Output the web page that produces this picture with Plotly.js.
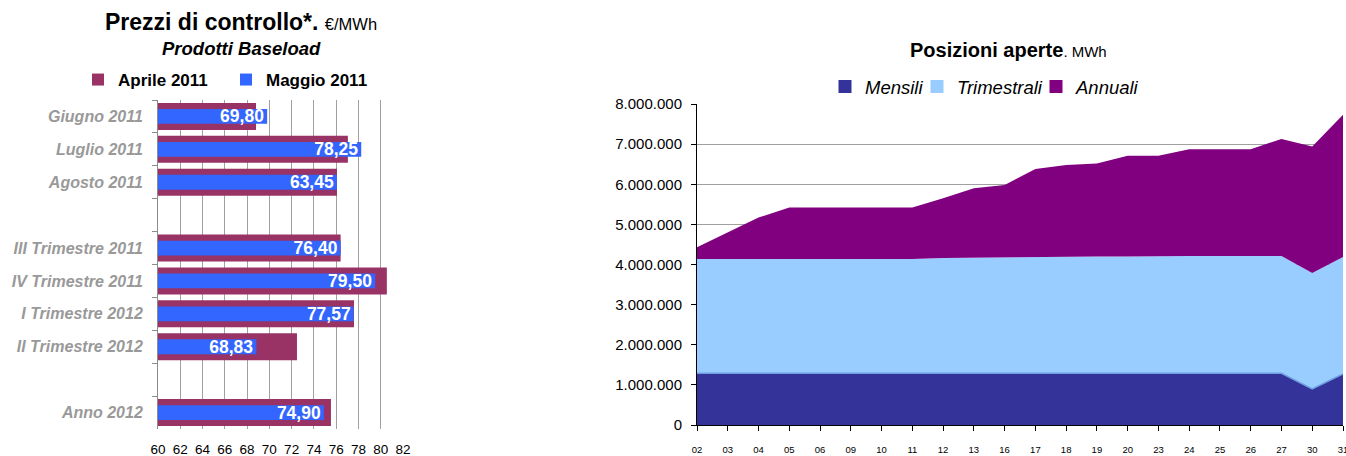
<!DOCTYPE html>
<html>
<head>
<meta charset="utf-8">
<script src="https://cdn.plot.ly/plotly-3.0.1.min.js"></script>
<style>html,body{margin:0;padding:0;background:#fff;}#chart{width:1346px;height:456px;}</style>
</head>
<body>
<div id="chart"></div>
<script>
// ---- Left chart: Prezzi di controllo (€/MWh) ----
var prodotti = ['Giugno 2011','Luglio 2011','Agosto 2011',' ','III Trimestre 2011','IV Trimestre 2011','I Trimestre 2012','II Trimestre 2012','  ','Anno 2012'];
var aprile2011 = [68.80, 77.05, 76.07, null, 76.40, 80.55, 77.60, 72.48, null, 75.53];
var maggio2011 = [69.80, 78.25, 76.07, null, 76.40, 79.50, 77.57, 68.83, null, 74.90];
var maggioLabels = ['69,80','78,25','63,45','','76,40','79,50','77,57','68,83','','74,90'];
var prezziTicks = [60,62,64,66,68,70,72,74,76,78,80,82];

// ---- Right chart: Posizioni aperte (MWh) ----
var giorni = ['02','03','04','05','06','09','10','11','12','13','16','17','18','19','20','23','24','25','26','27','30','31'];
var mensili     = [1290000,1290000,1290000,1290000,1290000,1290000,1290000,1290000,1290000,1290000,1290000,1290000,1290000,1290000,1290000,1290000,1290000,1290000,1290000,1290000,900000,1270000];
var trimestrali = [2850000,2850000,2850000,2850000,2850000,2850000,2850000,2850000,2870000,2880000,2890000,2900000,2900000,2910000,2910000,2920000,2920000,2920000,2920000,2920000,2890000,2920000];
var annuali     = [290000,660000,1030000,1280000,1280000,1280000,1280000,1280000,1490000,1730000,1800000,2190000,2290000,2320000,2510000,2500000,2660000,2660000,2660000,2920000,3150000,3540000];

var FONT = 'Liberation Sans, Arial, sans-serif';
var NARROW = 'Liberation Sans Narrow, Arial Narrow, Liberation Sans, Arial, sans-serif';
var W = 1346, H = 456;

var traces = [
  {type:'bar', orientation:'h', name:'Aprile 2011', y:prodotti, x:aprile2011,
   marker:{color:'#993366'}, width:0.82, xaxis:'x', yaxis:'y', legend:'legend', legendwidth:103, hoverinfo:'x+y'},
  {type:'bar', orientation:'h', name:'Maggio 2011', y:prodotti, x:maggio2011,
   marker:{color:'#3366FF'}, width:0.45, xaxis:'x', yaxis:'y', legend:'legend',
   text:maggioLabels, textposition:'inside', insidetextanchor:'end', constraintext:'none',
   textfont:{family:FONT, size:17.5, color:'#ffffff', weight:'bold'}, hoverinfo:'x+y'},
  {type:'scatter', mode:'lines', name:'Mensili', x:giorni, y:mensili, stackgroup:'one',
   line:{width:1.5, color:'#6f9fe0'}, fillcolor:'#333399', xaxis:'x2', yaxis:'y2', showlegend:false},
  {type:'scatter', mode:'lines', name:'Trimestrali', x:giorni, y:trimestrali, stackgroup:'one',
   line:{width:0, color:'#99CCFF'}, fillcolor:'#99CCFF', xaxis:'x2', yaxis:'y2', showlegend:false},
  {type:'scatter', mode:'lines', name:'Annuali', x:giorni, y:annuali, stackgroup:'one',
   line:{width:0, color:'#800080'}, fillcolor:'#800080', xaxis:'x2', yaxis:'y2', showlegend:false},
  // legend keys (square markers)
  {type:'scatter', mode:'markers', name:'Mensili', x:[null], y:[null], xaxis:'x2', yaxis:'y2',
   marker:{symbol:'square', size:13, color:'#333399'}, legend:'legend2', legendwidth:47, hoverinfo:'skip'},
  {type:'scatter', mode:'markers', name:'Trimestrali', x:[null], y:[null], xaxis:'x2', yaxis:'y2',
   marker:{symbol:'square', size:13, color:'#99CCFF'}, legend:'legend2', legendwidth:74, hoverinfo:'skip'},
  {type:'scatter', mode:'markers', name:'Annuali', x:[null], y:[null], xaxis:'x2', yaxis:'y2',
   marker:{symbol:'square', size:13, color:'#800080'}, legend:'legend2', hoverinfo:'skip'}
];

var layout = {
  width:W, height:H,
  margin:{l:0, r:0, t:0, b:0},
  paper_bgcolor:'#ffffff', plot_bgcolor:'rgba(0,0,0,0)',
  separators:',.',
  font:{family:FONT, color:'#000'},
  barmode:'overlay',
  showlegend:true,
  xaxis:{domain:[158/W, 403/W], range:[60,82], tickvals:prezziTicks, ticktext:prezziTicks.map(String),
    showgrid:true, gridcolor:'#a0a0a0', gridwidth:1, zeroline:false, showline:false, ticks:'',
    tickfont:{family:FONT, size:13.5, color:'#000'}, ticklabelstandoff:10, fixedrange:true},
  yaxis:{domain:[(H-429)/H, (H-100)/H], type:'category', categoryorder:'array', categoryarray:prodotti,
    autorange:'reversed', showline:true, linecolor:'#8c8c8c', linewidth:1, ticks:'outside', ticklen:5,
    tickcolor:'#8c8c8c', tickson:'boundaries', showgrid:false, zeroline:false,
    tickfont:{family:FONT, size:16, color:'#999999', weight:'bold', style:'italic'}, ticklabelstandoff:11},
  xaxis2:{domain:[697/W, 1343/W], anchor:'y2', type:'category', categoryorder:'array', categoryarray:giorni,
    range:[0,21], showline:true, linecolor:'#000', linewidth:1, ticks:'outside', ticklen:5, tickcolor:'#000',
    showgrid:false, zeroline:false, tickfont:{family:NARROW, size:9.5, color:'#000'}, ticklabelstandoff:11},
  yaxis2:{domain:[31/H, 352/H], anchor:'x2', range:[0,8000000], dtick:1000000, tickformat:',d',
    showline:true, linecolor:'#000', linewidth:1, ticks:'outside', ticklen:5, tickcolor:'#000',
    showgrid:true, gridcolor:'#a0a0a0', zeroline:false,
    tickfont:{family:FONT, size:15, color:'#000'}, ticklabelstandoff:6},
  legend:{orientation:'h', x:78/W, xanchor:'left', y:(H-80)/H, yanchor:'middle',
    font:{family:FONT, size:17, color:'#000', weight:'bold'}, bgcolor:'rgba(0,0,0,0)', itemwidth:30,
    traceorder:'normal', itemclick:false},
  legend2:{orientation:'h', x:825/W, xanchor:'left', y:(H-87)/H, yanchor:'middle',
    font:{family:FONT, size:18.5, color:'#000', style:'italic'}, bgcolor:'rgba(0,0,0,0)', itemwidth:30,
    traceorder:'normal', itemclick:false},
  annotations:[
    {xref:'paper', yref:'paper', x:241/W, y:(H-22)/H, xanchor:'center', yanchor:'middle', showarrow:false,
     text:'<b>Prezzi di controllo*.</b> <span style="font-size:16.5px">€/MWh</span>',
     font:{family:FONT, size:23, color:'#000'}},
    {xref:'paper', yref:'paper', x:241/W, y:(H-49)/H, xanchor:'center', yanchor:'middle', showarrow:false,
     text:'<b><i>Prodotti Baseload</i></b>', font:{family:FONT, size:18.5, color:'#000'}},
    {xref:'paper', yref:'paper', x:908/W, y:(H-50)/H, xanchor:'left', yanchor:'middle', showarrow:false,
     text:'<b>Posizioni aperte</b><span style="font-size:15px">. MWh</span>',
     font:{family:FONT, size:20, color:'#000'}}
  ]
};

Plotly.newPlot('chart', traces, layout, {displayModeBar:false, staticPlot:true});
</script>
</body>
</html>
